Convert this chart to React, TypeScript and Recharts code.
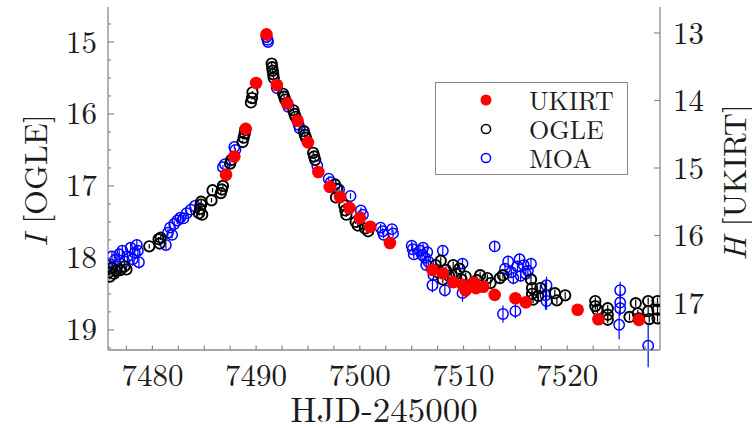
import React from 'react';
import { ScatterChart, Scatter, XAxis, YAxis, ErrorBar, Legend } from 'recharts';

// ---------- data ----------
// [HJD-2450000, I mag, error]
const OGLE: [number, number, number][] = [
  [7475.8, 18.2, 0.04], [7475.9, 18.26, 0.04], [7476.1, 18.14, 0.04], [7476.3, 18.22, 0.04],
  [7476.5, 18.18, 0.04], [7476.9, 18.17, 0.04], [7477.3, 18.12, 0.04], [7477.5, 18.16, 0.04],
  [7479.7, 17.84, 0.03], [7480.6, 17.74, 0.03], [7480.7, 17.8, 0.03], [7480.8, 17.72, 0.03],
  [7484.5, 17.38, 0.03], [7484.6, 17.32, 0.03], [7484.7, 17.26, 0.03], [7484.8, 17.4, 0.03], [7484.7, 17.22, 0.03],
  [7485.7, 17.2, 0.03], [7485.8, 17.06, 0.03], [7486.6, 17.1, 0.03], [7486.8, 17.0, 0.03], [7486.7, 17.05, 0.03],
  [7487.5, 16.69, 0.02], [7487.6, 16.64, 0.02],
  [7488.7, 16.39, 0.02], [7488.8, 16.33, 0.02], [7488.9, 16.27, 0.02], [7488.95, 16.22, 0.02],
  [7489.5, 15.84, 0.02], [7489.6, 15.78, 0.02], [7489.65, 15.7, 0.02],
  [7491.5, 15.3, 0.02], [7491.55, 15.35, 0.02], [7491.6, 15.4, 0.02], [7491.65, 15.45, 0.02], [7491.7, 15.5, 0.02],
  [7492.6, 15.72, 0.02], [7492.7, 15.76, 0.02], [7492.8, 15.8, 0.02],
  [7493.6, 15.95, 0.02], [7493.7, 16.0, 0.02], [7493.8, 16.04, 0.02],
  [7494.6, 16.24, 0.02], [7494.7, 16.29, 0.02], [7494.8, 16.33, 0.02],
  [7495.5, 16.54, 0.02], [7495.6, 16.59, 0.02], [7495.7, 16.64, 0.02],
  [7497.6, 16.98, 0.03], [7497.8, 17.04, 0.03], [7497.7, 17.16, 0.03],
  [7498.5, 17.27, 0.03], [7498.7, 17.4, 0.03], [7498.6, 17.34, 0.03],
  [7499.6, 17.5, 0.03], [7499.8, 17.55, 0.03], [7500.5, 17.59, 0.03], [7500.8, 17.63, 0.03],
  [7507.3, 18.1, 0.05], [7507.5, 18.2, 0.05], [7507.8, 18.04, 0.05], [7508.0, 18.3, 0.05], [7508.3, 18.17, 0.05],
  [7508.6, 18.25, 0.05], [7509.0, 18.1, 0.05], [7509.3, 18.22, 0.05], [7509.6, 18.15, 0.05], [7509.8, 18.3, 0.05],
  [7510.2, 18.26, 0.05], [7511.3, 18.31, 0.05], [7511.6, 18.24, 0.05], [7512.3, 18.28, 0.05], [7512.6, 18.35, 0.05],
  [7513.5, 18.28, 0.05], [7513.8, 18.24, 0.05],
  [7516.5, 18.3, 0.05], [7516.6, 18.42, 0.05], [7516.6, 18.5, 0.05], [7516.7, 18.58, 0.05], [7517.4, 18.42, 0.05], [7517.2, 18.53, 0.05],
  [7518.8, 18.49, 0.05], [7519.0, 18.59, 0.05], [7519.8, 18.52, 0.05],
  [7522.7, 18.6, 0.05], [7522.7, 18.67, 0.05], [7522.9, 18.72, 0.05], [7523.9, 18.7, 0.05], [7523.9, 18.79, 0.05], [7523.9, 18.86, 0.05],
  [7526.0, 18.82, 0.05], [7526.6, 18.63, 0.05], [7526.8, 18.77, 0.05], [7526.9, 18.84, 0.05], [7527.8, 18.6, 0.05],
  [7527.8, 18.74, 0.05], [7527.9, 18.85, 0.05], [7528.7, 18.6, 0.05], [7528.7, 18.72, 0.05], [7528.7, 18.84, 0.05],
];

// [HJD-2450000, I mag, error]
const MOA: [number, number, number][] = [
  [7475.9, 18.08, 0.08], [7476.1, 17.98, 0.07], [7476.4, 18.03, 0.08], [7476.6, 18.12, 0.09], [7476.8, 17.95, 0.08],
  [7477.1, 17.9, 0.08], [7477.3, 18.05, 0.09], [7477.6, 17.98, 0.08], [7477.9, 17.86, 0.08], [7478.1, 18.02, 0.09],
  [7478.3, 17.93, 0.08], [7478.5, 17.82, 0.08], [7478.7, 18.06, 0.09], [7478.6, 17.9, 0.08],
  [7481.3, 17.82, 0.06], [7481.5, 17.65, 0.05], [7481.7, 17.58, 0.05], [7481.9, 17.68, 0.05], [7482.1, 17.53, 0.05],
  [7482.4, 17.48, 0.05], [7482.7, 17.44, 0.05], [7483.0, 17.45, 0.05], [7483.3, 17.38, 0.05], [7483.7, 17.33, 0.04], [7484.1, 17.28, 0.04],
  [7486.8, 16.74, 0.03], [7487.0, 16.7, 0.03], [7487.9, 16.46, 0.03], [7488.0, 16.5, 0.03],
  [7491.0, 14.93, 0.02], [7491.1, 14.97, 0.02], [7491.15, 15.0, 0.02],
  [7492.0, 15.64, 0.02], [7493.0, 15.86, 0.02], [7493.1, 15.9, 0.02], [7494.1, 16.15, 0.02], [7494.2, 16.2, 0.02],
  [7495.9, 16.72, 0.03], [7497.0, 16.9, 0.03], [7497.2, 16.95, 0.03], [7498.0, 17.05, 0.04], [7499.1, 17.14, 0.04],
  [7500.1, 17.34, 0.04], [7500.3, 17.4, 0.04],
  [7502.0, 17.58, 0.05], [7502.2, 17.63, 0.05], [7502.3, 17.68, 0.05], [7503.1, 17.6, 0.05], [7503.2, 17.66, 0.05],
  [7505.0, 17.83, 0.06], [7505.1, 17.88, 0.06], [7505.2, 17.95, 0.06],
  [7505.8, 17.9, 0.06], [7506.0, 17.96, 0.07], [7506.1, 17.86, 0.06], [7506.3, 18.0, 0.07], [7506.5, 17.92, 0.06],
  [7506.6, 18.05, 0.07], [7506.4, 18.1, 0.08], [7507.1, 18.24, 0.08], [7507.0, 18.38, 0.1], [7508.0, 17.9, 0.07], [7508.2, 18.45, 0.09],
  [7509.9, 18.08, 0.08], [7509.9, 18.49, 0.12],
  [7513.0, 17.84, 0.06],
  [7513.8, 18.78, 0.12], [7514.0, 18.15, 0.08], [7514.3, 18.05, 0.08], [7514.6, 18.2, 0.08], [7515.0, 18.74, 0.1],
  [7515.2, 18.12, 0.08], [7515.5, 18.25, 0.08], [7515.8, 18.1, 0.08], [7516.2, 18.18, 0.08], [7516.5, 18.08, 0.08],
  [7515.4, 18.02, 0.08], [7514.8, 18.28, 0.09], [7516.0, 18.22, 0.08],
  [7518.0, 18.38, 0.12], [7517.9, 18.52, 0.2], [7518.0, 18.6, 0.12],
  [7525.1, 18.45, 0.12], [7525.1, 18.62, 0.15], [7525.1, 18.7, 0.1], [7525.0, 18.93, 0.2],
  [7527.8, 19.22, 0.3],
];

// [HJD-2450000, H mag, error]
const UKIRT: [number, number, number][] = [
  [7487.1, 15.1, 0.01], [7487.9, 14.83, 0.01], [7489.0, 14.42, 0.01], [7490.0, 13.74, 0.01], [7491.0, 13.02, 0.01],
  [7492.0, 13.77, 0.01], [7493.0, 14.04, 0.01], [7494.0, 14.3, 0.01], [7495.0, 14.62, 0.01], [7496.0, 15.06, 0.01],
  [7497.1, 15.28, 0.01], [7498.1, 15.43, 0.01], [7499.0, 15.59, 0.01], [7500.0, 15.74, 0.01], [7501.0, 15.87, 0.01],
  [7502.9, 16.11, 0.02], [7507.0, 16.51, 0.03], [7508.0, 16.56, 0.03], [7509.0, 16.69, 0.04], [7509.9, 16.73, 0.04],
  [7510.2, 16.81, 0.05], [7511.0, 16.7, 0.05], [7511.2, 16.78, 0.05], [7511.9, 16.76, 0.05], [7513.0, 16.88, 0.05],
  [7515.0, 16.93, 0.05], [7516.0, 16.99, 0.05], [7521.0, 17.1, 0.05], [7523.0, 17.24, 0.06], [7526.9, 17.25, 0.06],
];

const X_DOMAIN: [number, number] = [7475.72, 7528.94];
const I_DOMAIN: [number, number] = [14.514, 19.28];
const H_DOMAIN: [number, number] = [12.615, 17.696];

const X_TICKS = [7477.5, 7480, 7482.5, 7485, 7487.5, 7490, 7492.5, 7495, 7497.5, 7500, 7502.5, 7505, 7507.5, 7510, 7512.5, 7515, 7517.5, 7520, 7522.5, 7525, 7527.5];
const X_LABELS = [7480, 7490, 7500, 7510, 7520];
const I_TICKS = [14.75, 15, 15.25, 15.5, 15.75, 16, 16.25, 16.5, 16.75, 17, 17.25, 17.5, 17.75, 18, 18.25, 18.5, 18.75, 19, 19.25];
const I_LABELS = [15, 16, 17, 18, 19];
const H_TICKS = [13, 14, 15, 16, 17];

const SERIES_NAMES = ['UKIRT', 'OGLE', 'MOA'];

const FONT = 'Latin Modern Roman, Liberation Serif, serif';
const FRAME = '#8a8a8a';
const TXT = '#1c1c1c';
const RED = '#ff0000';
const BLUE = '#0000ff';

const toPts = (arr: [number, number, number][]) => arr.map(([x, y, err]) => ({ x, y, err }));

const XTick = (props: any) => {
  const { x, y, payload } = props;
  const v = payload.value;
  const major = X_LABELS.includes(v);
  const base = y - 14;
  return (
    <g>
      <line x1={x} x2={x} y1={base} y2={base - 4.5} stroke={FRAME} strokeWidth={1.2} />
      {major && (
        <text x={x} y={y} dy="0.7em" textAnchor="middle" fontFamily={FONT} fontSize={31} fill={TXT}>
          {v}
        </text>
      )}
    </g>
  );
};

const ITick = (props: any) => {
  const { x, y, payload } = props;
  const v = payload.value;
  const major = I_LABELS.includes(v);
  const base = x + 11;
  return (
    <g>
      <line x1={base} x2={base + (major ? 6 : 3)} y1={y} y2={y} stroke={FRAME} strokeWidth={1.2} />
      {major && (
        <text x={x} y={y} dy="0.34em" textAnchor="end" fontFamily={FONT} fontSize={31} fill={TXT}>
          {v}
        </text>
      )}
    </g>
  );
};

const HTick = (props: any) => {
  const { x, y, payload } = props;
  const v = payload.value;
  const base = x - 13;
  return (
    <g>
      <line x1={base} x2={base - 6} y1={y} y2={y} stroke={FRAME} strokeWidth={1.2} />
      <text x={x} y={y} dy="0.34em" textAnchor="start" fontFamily={FONT} fontSize={31} fill={TXT}>
        {v}
      </text>
    </g>
  );
};

const LeftLabel = (props: any) => {
  const vb = props.viewBox;
  const cx = vb.x + 33;
  const cy = vb.y + vb.height / 2 + 2;
  return (
    <text x={cx} y={cy} transform={`rotate(-90 ${cx} ${cy})`} textAnchor="middle" dominantBaseline="central" fontFamily={FONT} fontSize={32} fill={TXT}>
      <tspan fontStyle="italic">I</tspan>
      <tspan> [OGLE]</tspan>
    </text>
  );
};

const RightLabel = (props: any) => {
  const vb = props.viewBox;
  const cx = vb.x + 72;
  const cy = vb.y + vb.height / 2 + 4;
  return (
    <text x={cx} y={cy} transform={`rotate(-90 ${cx} ${cy})`} textAnchor="middle" dominantBaseline="central" fontFamily={FONT} fontSize={32} fill={TXT}>
      <tspan fontStyle="italic">H</tspan>
      <tspan> [UKIRT]</tspan>
    </text>
  );
};

const markerFor = (name: string) => {
  if (name === 'UKIRT') return <circle cx={50} cy={13} r={5.5} fill={RED} />;
  if (name === 'OGLE') return <circle cx={50} cy={13} r={4.6} fill="none" stroke="#000" strokeWidth={1.5} />;
  return <circle cx={50} cy={13} r={4.6} fill="none" stroke={BLUE} strokeWidth={1.5} />;
};

const renderLegend = () => (
  <div style={{ width: 193, height: 93, border: `1.3px solid ${FRAME}`, boxSizing: 'border-box', background: '#fff', position: 'relative' }}>
    {SERIES_NAMES.map((name, i) => (
      <div key={name} style={{ position: 'absolute', left: 0, top: 4 + i * 29, height: 26, display: 'flex', alignItems: 'center' }}>
        <svg width={93} height={26} style={{ display: 'block' }}>{markerFor(name)}</svg>
        <span style={{ fontFamily: FONT, fontSize: 26, color: TXT, lineHeight: '26px' }}>{name}</span>
      </div>
    ))}
  </div>
);

export default function App() {
  return (
    <div style={{ position: 'absolute', left: 0, top: 0, background: '#fff' }}>
      <ScatterChart width={752} height={428} margin={{ top: 7, right: 0, bottom: 0, left: 0 }}>
        <XAxis
          xAxisId="b"
          dataKey="x"
          type="number"
          domain={X_DOMAIN}
          allowDataOverflow
          ticks={X_TICKS}
          interval={0}
          tickSize={0}
          tickMargin={14}
          tickLine={false}
          tick={XTick}
          height={78}
          axisLine={{ stroke: FRAME, strokeWidth: 1.3 }}
          label={{ value: 'HJD-245000', position: 'insideBottom', offset: 6, fontFamily: FONT, fontSize: 35, fill: TXT }}
        />
        <XAxis
          xAxisId="t"
          orientation="top"
          type="number"
          domain={X_DOMAIN}
          allowDataOverflow
          height={0}
          tick={false}
          tickLine={false}
          axisLine={{ stroke: FRAME, strokeWidth: 1.3 }}
        />
        <YAxis
          yAxisId="i"
          dataKey="y"
          type="number"
          reversed
          domain={I_DOMAIN}
          allowDataOverflow
          ticks={I_TICKS}
          interval={0}
          tickSize={0}
          tickMargin={11}
          tickLine={false}
          tick={ITick}
          width={108}
          axisLine={{ stroke: FRAME, strokeWidth: 1.3 }}
          label={LeftLabel}
        />
        <YAxis
          yAxisId="h"
          orientation="right"
          dataKey="y"
          type="number"
          reversed
          domain={H_DOMAIN}
          allowDataOverflow
          ticks={H_TICKS}
          interval={0}
          tickSize={0}
          tickMargin={13}
          tickLine={false}
          tick={HTick}
          width={92}
          axisLine={{ stroke: FRAME, strokeWidth: 1.3 }}
          label={RightLabel}
        />
        <Legend
          layout="horizontal"
          verticalAlign="middle"
          align="center"
          wrapperStyle={{ position: 'absolute', left: 435, top: 82, width: 193, height: 93 }}
          content={renderLegend}
        />
        <Scatter
          name="MOA"
          data={toPts(MOA)}
          xAxisId="b"
          yAxisId="i"
          isAnimationActive={false}
          shape={(p: any) => <circle cx={p.cx} cy={p.cy} r={5.2} fill="none" stroke={BLUE} strokeWidth={1.5} />}
        >
          <ErrorBar dataKey="err" direction="y" width={0} stroke={BLUE} strokeWidth={1.2} isAnimationActive={false} />
        </Scatter>
        <Scatter
          name="OGLE"
          data={toPts(OGLE)}
          xAxisId="b"
          yAxisId="i"
          isAnimationActive={false}
          shape={(p: any) => <circle cx={p.cx} cy={p.cy} r={5.2} fill="none" stroke="#000" strokeWidth={1.9} />}
        >
          <ErrorBar dataKey="err" direction="y" width={0} stroke="#000" strokeWidth={1.2} isAnimationActive={false} />
        </Scatter>
        <Scatter
          name="UKIRT"
          data={toPts(UKIRT)}
          xAxisId="b"
          yAxisId="h"
          isAnimationActive={false}
          shape={(p: any) => <circle cx={p.cx} cy={p.cy} r={6.3} fill={RED} />}
        >
          <ErrorBar dataKey="err" direction="y" width={0} stroke={RED} strokeWidth={1.2} isAnimationActive={false} />
        </Scatter>
      </ScatterChart>
    </div>
  );
}
